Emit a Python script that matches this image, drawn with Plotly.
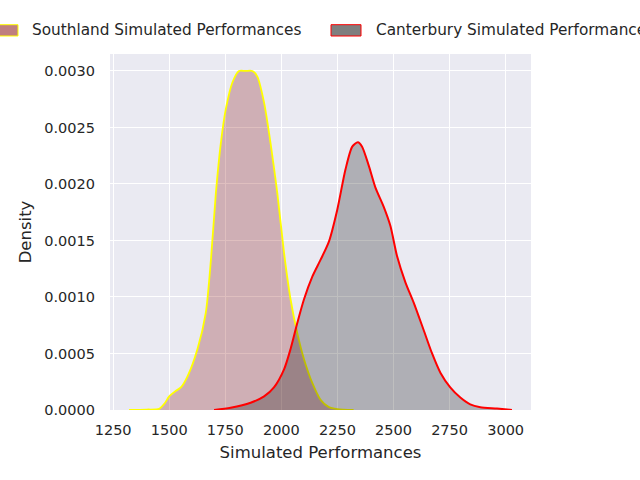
import plotly.graph_objects as go

# density curves (seaborn-style kde)
south_x = [1321, 1400, 1455, 1480, 1500, 1530, 1552, 1582, 1626, 1663, 1686, 1708, 1730, 1752,
           1782, 1811, 1840, 1871, 1893, 1923, 1952, 1982, 2012, 2041, 2071, 2101, 2138, 2175,
           2212, 2250, 2322]
south_y = [0.0, 0.000004, 0.00001, 0.00006, 0.00012, 0.00017, 0.0002, 0.0003, 0.00054, 0.00086,
           0.00133, 0.00192, 0.00236, 0.00266, 0.0029, 0.003, 0.003, 0.003, 0.00295, 0.00272,
           0.00236, 0.00192, 0.00139, 0.00098, 0.00068, 0.00045, 0.00024, 0.00009, 0.000025,
           0.000008, 0.0]

cant_x = [1700, 1774, 1863, 1923, 1967, 2012, 2041, 2071, 2101, 2138, 2175, 2212, 2249, 2286,
          2316, 2341, 2360, 2390, 2419, 2456, 2486, 2516, 2553, 2590, 2634, 2672, 2709, 2753,
          2798, 2842, 2887, 2961, 3028]
cant_y = [0.0, 0.00002, 0.000064, 0.00012, 0.0002, 0.00036, 0.00054, 0.00077, 0.00098, 0.00118,
          0.00133, 0.00149, 0.00177, 0.00213, 0.00233, 0.00237, 0.00233, 0.00216, 0.00197,
          0.0018, 0.00163, 0.00136, 0.00113, 0.00095, 0.00071, 0.0005, 0.00033, 0.0002,
          0.00011, 0.00005, 0.000025, 0.000013, 0.0]

names = ['Southland Simulated Performances', 'Canterbury Simulated Performances']

font = 'DejaVu Sans'
ink = '#262626'

fig = go.Figure()
fig.add_trace(go.Scatter(x=south_x, y=south_y, mode='lines', name=names[0], fill='tozeroy',
                         fillcolor='rgba(128,0,0,0.25)',
                         line=dict(color='yellow', width=1.8, shape='spline', smoothing=0.7)))
fig.add_trace(go.Scatter(x=cant_x, y=cant_y, mode='lines', name=names[1], fill='tozeroy',
                         fillcolor='rgba(0,0,0,0.25)',
                         line=dict(color='red', width=2, shape='spline', smoothing=0.7)))

# hand-made legend like matplotlib's (runs off the right edge)
pw = 421.0
ph = 356.0


def px(v):
    return (v - 110) / pw


def py(v):
    return 1 + (54 - v) / ph


legend = [(-12, 18, 30, 'rgba(128,0,0,0.5)', 'yellow'),
          (331, 361, 374, 'rgba(0,0,0,0.5)', 'red')]
shapes = []
annotations = []
for (a, b, t, fc, lc), name in zip(legend, names):
    shapes.append(dict(type='rect', xref='paper', yref='paper', x0=px(a), x1=px(b),
                       y0=py(36), y1=py(24.7), fillcolor=fc, line=dict(color=lc, width=1)))
    annotations.append(dict(xref='paper', yref='paper', x=px(t), y=py(30.5), text=name,
                            showarrow=False, xanchor='left', yanchor='middle',
                            font=dict(family=font, size=15.3, color=ink)))

fig.update_layout(
    width=640, height=480,
    margin=dict(l=110, r=109, t=54, b=70),
    paper_bgcolor='white', plot_bgcolor='#EAEAF2',
    showlegend=False,
    font=dict(family=font, size=14.5, color=ink),
    shapes=shapes, annotations=annotations,
    xaxis=dict(range=[1236, 3113], dtick=250, tick0=1250, showgrid=True, gridcolor='white',
               gridwidth=1.2, zeroline=False, showline=False, ticks='', ticklabelstandoff=9,
               title=dict(text='Simulated Performances', font=dict(size=16.5), standoff=9),
               automargin=False),
    yaxis=dict(range=[0, 0.00315], dtick=0.0005, tickformat='.4f', showgrid=True,
               gridcolor='white', gridwidth=1.2, zeroline=False, showline=False, ticks='',
               ticklabelstandoff=14,
               title=dict(text='Density', font=dict(size=16.5), standoff=8),
               automargin=False),
)

# drop the page's default body margin so the figure sits at the window's corner
fig.write_html('out.html', config={'displayModeBar': False},
               post_script="document.body.style.margin='0';")
